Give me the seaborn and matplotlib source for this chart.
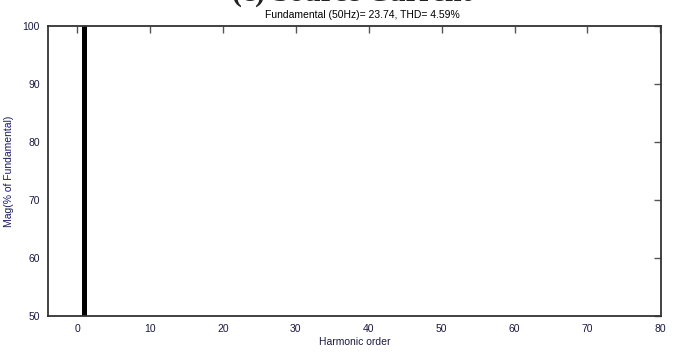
import matplotlib
matplotlib.use("Agg")
import matplotlib.pyplot as plt
import seaborn as sns
import pandas as pd

# Harmonic spectrum of the source current (% of fundamental)
harmonic_order = [1, 3, 5, 7, 9, 11, 13]
magnitude_pct = [100.0, 1.2, 3.5, 2.4, 0.4, 1.1, 0.8]
x_ticks = [0, 10, 20, 30, 40, 50, 60, 70, 80]
y_ticks = [50, 60, 70, 80, 90, 100]
title_text = "(c) Source Current"
subtitle_text = "Fundamental (50Hz)= 23.74, THD= 4.59%"

df = pd.DataFrame({"order": harmonic_order, "mag": magnitude_pct})

sns.set_style("white")
plt.rcParams["font.family"] = ["Liberation Sans", "DejaVu Sans"]

fig = plt.figure(figsize=(6.87, 3.52), dpi=100)
ax = fig.add_axes([0.0699, 0.102, 0.8923, 0.824])

sns.barplot(data=df, x="order", y="mag", native_scale=True, width=0.3,
            color="black", edgecolor="black", linewidth=0, ax=ax)

ax.set_xlim(-4, 80.1)
ax.set_ylim(50, 100)
ax.set_xticks(x_ticks)
ax.set_yticks(y_ticks)
ax.set_xticklabels([str(t) for t in x_ticks])
ax.set_yticklabels([str(t) for t in y_ticks])

label_color = "#1a1a40"
ax.tick_params(axis="both", direction="in", length=5, width=1, colors="#555555",
               labelcolor=label_color, labelsize=7.5, top=True, right=True, pad=6)
ax.set_xlabel("Harmonic order", fontsize=7.5, color=label_color, labelpad=2)
ax.set_ylabel("Mag(% of Fundamental)", fontsize=7.5, color="#1a1a60", labelpad=6)

for side in ["left", "right", "top", "bottom"]:
    ax.spines[side].set_visible(True)
    ax.spines[side].set_color("#333333")
    ax.spines[side].set_linewidth(1.3)

fig.text(0.512, 1 - 1 / 352, title_text, ha="center", va="baseline",
         fontsize=21.5, fontweight="bold",
         family=["Liberation Serif", "DejaVu Serif"], color="#222222")
fig.text(0.527, 1 - 18 / 352, subtitle_text, ha="center", va="baseline",
         fontsize=7.5, color="black")

fig.savefig("out.png", dpi=100, facecolor="white")
